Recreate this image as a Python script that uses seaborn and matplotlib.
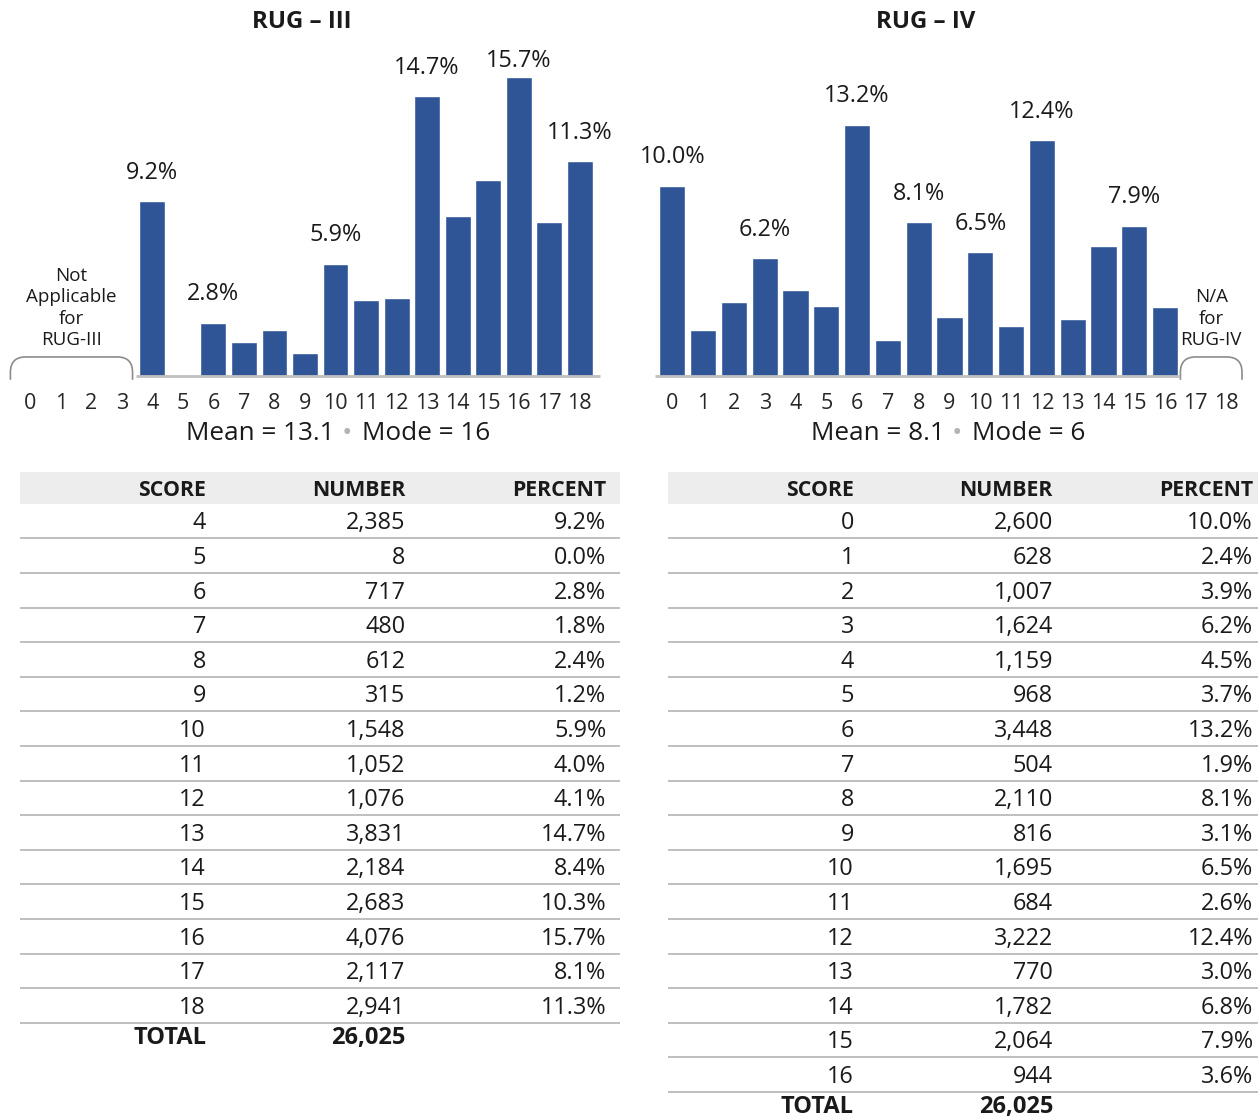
import seaborn as sns
import matplotlib.pyplot as plt
from matplotlib.path import Path
from matplotlib.patches import PathPatch

# RUG-III distribution
scores3 = [4, 5, 6, 7, 8, 9, 10, 11, 12, 13, 14, 15, 16, 17, 18]
number3 = [2385, 8, 717, 480, 612, 315, 1548, 1052, 1076, 3831, 2184, 2683, 4076, 2117, 2941]
pct3 = [9.2, 0.0, 2.8, 1.8, 2.4, 1.2, 5.9, 4.0, 4.1, 14.7, 8.4, 10.3, 15.7, 8.1, 11.3]
total3 = 26025
labeled3 = [4, 6, 10, 13, 16, 18]
mean3, mode3 = 13.1, 16

# RUG-IV distribution
scores4 = [0, 1, 2, 3, 4, 5, 6, 7, 8, 9, 10, 11, 12, 13, 14, 15, 16]
number4 = [2600, 628, 1007, 1624, 1159, 968, 3448, 504, 2110, 816, 1695, 684, 3222, 770, 1782, 2064, 944]
pct4 = [10.0, 2.4, 3.9, 6.2, 4.5, 3.7, 13.2, 1.9, 8.1, 3.1, 6.5, 2.6, 12.4, 3.0, 6.8, 7.9, 3.6]
total4 = 26025
labeled4 = [0, 3, 6, 8, 10, 12, 15]
mean4, mode4 = 8.1, 6

all_ticks = list(range(19))

BAR = '#2F5597'
GRID = '#BFBFBF'
W, H = 1260, 1120

sns.set_theme(style='white')
plt.rcParams['font.family'] = ['Open Sans', 'DejaVu Sans']
plt.rcParams['text.color'] = '#1A1A1A'

fig = plt.figure(figsize=(W / 100, H / 100), dpi=100)


def px_axes(x0, y0, x1, y1):
    return fig.add_axes([x0 / W, 1 - y1 / H, (x1 - x0) / W, (y1 - y0) / H])


def brace(ax, x0, x1, top=1.0, bottom=-0.2, rx=0.5, ry=0.8):
    verts = [(x0, bottom), (x0, top - ry), (x0, top), (x0 + rx, top),
             (x1 - rx, top), (x1, top), (x1, top - ry), (x1, bottom)]
    codes = [Path.MOVETO, Path.LINETO, Path.CURVE3, Path.CURVE3,
             Path.LINETO, Path.CURVE3, Path.CURVE3, Path.LINETO]
    ax.add_patch(PathPatch(Path(verts, codes), fill=False, edgecolor='#8C8C8C',
                           lw=1.2, clip_on=False))


def chart(ax, scores, pct, labeled, base, na_span, na_text, title, title_x,
          mean, mode, bullet_x):
    sns.barplot(x=scores, y=pct, native_scale=True, width=0.85, color=BAR,
                saturation=1, ax=ax)
    ax.set_xlim(-0.5, 18.5)
    ax.set_ylim(0, 17.64)
    ax.set_xticks(all_ticks)
    ax.set_xticklabels([str(t) for t in all_ticks], fontsize=15.5)
    ax.tick_params(axis='x', length=0, pad=12)
    ax.set_yticks([])
    for s in ax.spines.values():
        s.set_visible(False)
    ax.hlines(0, base[0], base[1], color=GRID, lw=2, clip_on=False)
    for s, v in zip(scores, pct):
        if s in labeled:
            ax.text(s, min(v + 1.48, 16.55), f'{v:.1f}%', ha='center', va='center',
                    fontsize=16.8)
    brace(ax, na_span[0], na_span[1])
    ax.text((na_span[0] + na_span[1]) / 2, 1.4, na_text, ha='center', va='bottom',
            fontsize=13.5, linespacing=1.25)
    fig.text(title_x / W, 1 - 22 / H, title, ha='center', va='center',
             fontsize=17.3, fontweight='bold')
    y = 1 - 434 / H
    fig.text((bullet_x - 12) / W, y, f'Mean = {mean}', ha='right', va='center', fontsize=18.8)
    fig.text(bullet_x / W, y, '\u2022', ha='center', va='center', fontsize=20,
             color='#B4B4B4')
    fig.text((bullet_x + 15) / W, y, f'Mode = {mode}', ha='left', va='center', fontsize=18.8)


ax1 = px_axes(15, 40, 595, 376)
chart(ax1, scores3, pct3, labeled3, (3.45, 18.65), (-0.65, 3.35),
      'Not\nApplicable\nfor\nRUG-III', 'RUG \u2013 III', 302, mean3, mode3, 347)
ax2 = px_axes(657, 40, 1242, 376)
chart(ax2, scores4, pct4, labeled4, (-0.55, 16.45), (16.5, 18.5),
      'N/A\nfor\nRUG-IV', 'RUG \u2013 IV', 926, mean4, mode4, 957)


def table(ax, scores, numbers, pct, total, cols):
    row_h = 34.6
    dy = 0.07
    ax.set_xlim(0, 1)
    ax.set_ylim((1120 - 521) / row_h, (460 - 521) / row_h)
    ax.axis('off')
    ax.axhspan(-1.42, -0.49, color='#EDEDED', lw=0)
    for x, head in zip(cols, ['SCORE', 'NUMBER', 'PERCENT']):
        ax.text(x, -0.95 + dy, head, ha='right', va='center', fontsize=15.3, fontweight='bold')
    for i, (s, n, p) in enumerate(zip(scores, numbers, pct)):
        ax.text(cols[0], i + dy, str(s), ha='right', va='center', fontsize=16.8)
        ax.text(cols[1], i + dy, f'{n:,}', ha='right', va='center', fontsize=16.8)
        ax.text(cols[2], i + dy, f'{p:.1f}%', ha='right', va='center', fontsize=16.8)
        ax.axhline(i + 0.5, color=GRID, lw=1.4)
    n = len(scores)
    ax.text(cols[0], n - 0.06, 'TOTAL', ha='right', va='center', fontsize=17,
            fontweight='bold')
    ax.text(cols[1], n - 0.06, f'{total:,}', ha='right', va='center', fontsize=17,
            fontweight='bold')


t1 = px_axes(20, 460, 620, 1120)
table(t1, scores3, number3, pct3, total3, [0.31, 0.642, 0.977])
t2 = px_axes(668, 460, 1258, 1120)
table(t2, scores4, number4, pct4, total4, [0.315, 0.6525, 0.9915])

fig.savefig('out.png', dpi=100)
